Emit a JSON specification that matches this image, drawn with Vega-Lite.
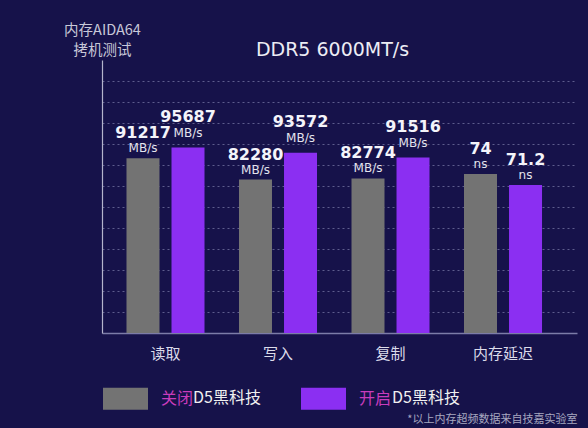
{
  "$schema": "https://vega.github.io/schema/vega-lite/v6.json",
  "description": "内存AIDA64 拷机测试, DDR5 6000MT/s, 关闭/开启D5黑科技",
  "width": 475,
  "height": 273,
  "autosize": {"type": "none"},
  "padding": {"left": 102, "top": 60, "right": 11, "bottom": 95},
  "background": "#16124a",
  "config": {
    "view": {"stroke": null},
    "font": "Noto Sans CJK SC"
  },
  "title": {
    "text": "DDR5 6000MT/s",
    "font": "DejaVu Sans",
    "fontSize": 19,
    "fontWeight": "normal",
    "color": "#ececf4",
    "offset": -38,
    "dx": -7
  },
  "data": {
    "values": [
      {"category": "读取", "state": "关闭", "series": "关闭D5黑科技", "value": 91217, "unit": "MB/s"},
      {"category": "读取", "state": "开启", "series": "开启D5黑科技", "value": 95687, "unit": "MB/s"},
      {"category": "写入", "state": "关闭", "series": "关闭D5黑科技", "value": 82280, "unit": "MB/s"},
      {"category": "写入", "state": "开启", "series": "开启D5黑科技", "value": 93572, "unit": "MB/s"},
      {"category": "复制", "state": "关闭", "series": "关闭D5黑科技", "value": 82774, "unit": "MB/s"},
      {"category": "复制", "state": "开启", "series": "开启D5黑科技", "value": 91516, "unit": "MB/s"},
      {"category": "内存延迟", "state": "关闭", "series": "关闭D5黑科技", "value": 74, "unit": "ns"},
      {"category": "内存延迟", "state": "开启", "series": "开启D5黑科技", "value": 71.2, "unit": "ns"}
    ]
  },
  "encoding": {
    "x": {
      "field": "category",
      "type": "nominal",
      "scale": {
        "domain": ["读取", "写入", "复制", "内存延迟"],
        "paddingInner": 0,
        "paddingOuter": 0.111,
        "align": 0.29
      },
      "axis": {
        "title": "*以上内存超频数据来自技嘉实验室",
        "titleAnchor": "end",
        "titleAlign": "right",
        "titleX": 475,
        "titleY": 86,
        "titleBaseline": "middle",
        "titleFont": "Noto Sans CJK SC",
        "titleFontSize": 11,
        "titleFontWeight": "normal",
        "titleColor": "#a8a8c0",
        "labelAngle": 0,
        "labelFont": "Noto Sans CJK SC",
        "labelFontSize": 15,
        "labelColor": "#dcdcea",
        "labelPadding": 13,
        "ticks": false,
        "domainColor": "#7c7ca8",
        "domainWidth": 1.5
      }
    },
    "xOffset": {
      "field": "state",
      "type": "nominal",
      "scale": {"domain": ["关闭", "开启"], "paddingInner": 0.267, "paddingOuter": 0.383}
    }
  },
  "layer": [
    {
      "transform": [{"filter": "datum.unit === 'MB/s'"}],
      "encoding": {
        "y": {
          "field": "value",
          "type": "quantitative",
          "scale": {"domain": [18000, 132400], "zero": false},
          "axis": {
            "values": [26800, 35600, 44400, 53200, 62000, 70800, 79600, 88400, 97200, 106000, 114800, 123600],
            "labels": false,
            "ticks": false,
            "grid": true,
            "gridDash": [2, 3],
            "gridColor": "#9a9ac4",
            "gridOpacity": 0.55,
            "domainColor": "#b4b4cc",
            "domainWidth": 1.2,
            "title": ["内存AIDA64", "拷机测试"],
            "titleAngle": 0,
            "titleAlign": "center",
            "titleX": 0,
            "titleY": -23,
            "titleBaseline": "bottom",
            "titleLineHeight": 20,
            "titleFont": "Noto Sans CJK SC",
            "titleFontSize": 14.5,
            "titleFontWeight": "normal",
            "titleColor": "#c8c8d8"
          }
        }
      },
      "layer": [
        {
          "mark": {"type": "bar", "clip": true},
          "encoding": {
            "color": {
              "field": "state",
              "type": "nominal",
              "scale": {"domain": ["关闭", "开启"], "range": ["#737373", "#8b2ff2"]},
              "legend": {
                "orient": "none",
                "legendX": 1,
                "legendY": 316,
                "direction": "horizontal",
                "title": null,
                "symbolType": "M-1,-0.49H1V0.49H-1Z",
                "symbolSize": 2025,
                "symbolStrokeWidth": 0,
                "symbolOpacity": 1,
                "labelColor": "#c83cbc",
                "labelFont": "Noto Sans CJK SC",
                "labelFontSize": 16,
                "labelOffset": 13,
                "columnPadding": 107
              }
            },
            "opacity": {
              "field": "series",
              "type": "ordinal",
              "scale": {"range": [1, 1]},
              "legend": {
                "orient": "none",
                "legendX": 75,
                "legendY": 330,
                "direction": "horizontal",
                "title": null,
                "symbolSize": 0,
                "symbolOpacity": 0,
                "labelExpr": "slice(datum.label, 2)",
                "labelColor": "#f0f0f0",
                "labelFont": "Noto Sans CJK SC",
                "labelFontSize": 16,
                "labelOffset": 0,
                "columnPadding": 115
              }
            }
          }
        },
        {
          "mark": {"type": "text", "dy": {"expr": "datum.state === '开启' ? -31 : -25"}, "baseline": "middle", "font": "DejaVu Sans", "fontSize": 16, "fontWeight": "bold", "color": "#f4f4fa"},
          "encoding": {"text": {"field": "value", "type": "nominal"}}
        },
        {
          "mark": {"type": "text", "dy": {"expr": "datum.state === '开启' ? -15 : -10"}, "baseline": "middle", "font": "DejaVu Sans", "fontSize": 12, "letterSpacing": 1, "color": "#e4e4ee"},
          "encoding": {"text": {"field": "unit", "type": "nominal"}}
        }
      ]
    },
    {
      "transform": [{"filter": "datum.unit === 'ns'"}],
      "encoding": {
        "y": {
          "field": "value",
          "type": "quantitative",
          "scale": {"domain": [33.5, 103], "zero": false},
          "axis": null
        }
      },
      "layer": [
        {
          "mark": {"type": "bar", "clip": true},
          "encoding": {
            "color": {
              "field": "state",
              "type": "nominal",
              "scale": {"domain": ["关闭", "开启"], "range": ["#737373", "#8b2ff2"]}
            },
            "opacity": {
              "field": "series",
              "type": "ordinal",
              "scale": {"range": [1, 1]}
            }
          }
        },
        {
          "mark": {"type": "text", "dy": -25, "baseline": "middle", "font": "DejaVu Sans", "fontSize": 16, "fontWeight": "bold", "color": "#f4f4fa"},
          "encoding": {"text": {"field": "value", "type": "nominal"}}
        },
        {
          "mark": {"type": "text", "dy": -10, "baseline": "middle", "font": "DejaVu Sans", "fontSize": 12, "letterSpacing": 1, "color": "#e4e4ee"},
          "encoding": {"text": {"field": "unit", "type": "nominal"}}
        }
      ]
    }
  ],
  "resolve": {"scale": {"y": "independent"}}
}
